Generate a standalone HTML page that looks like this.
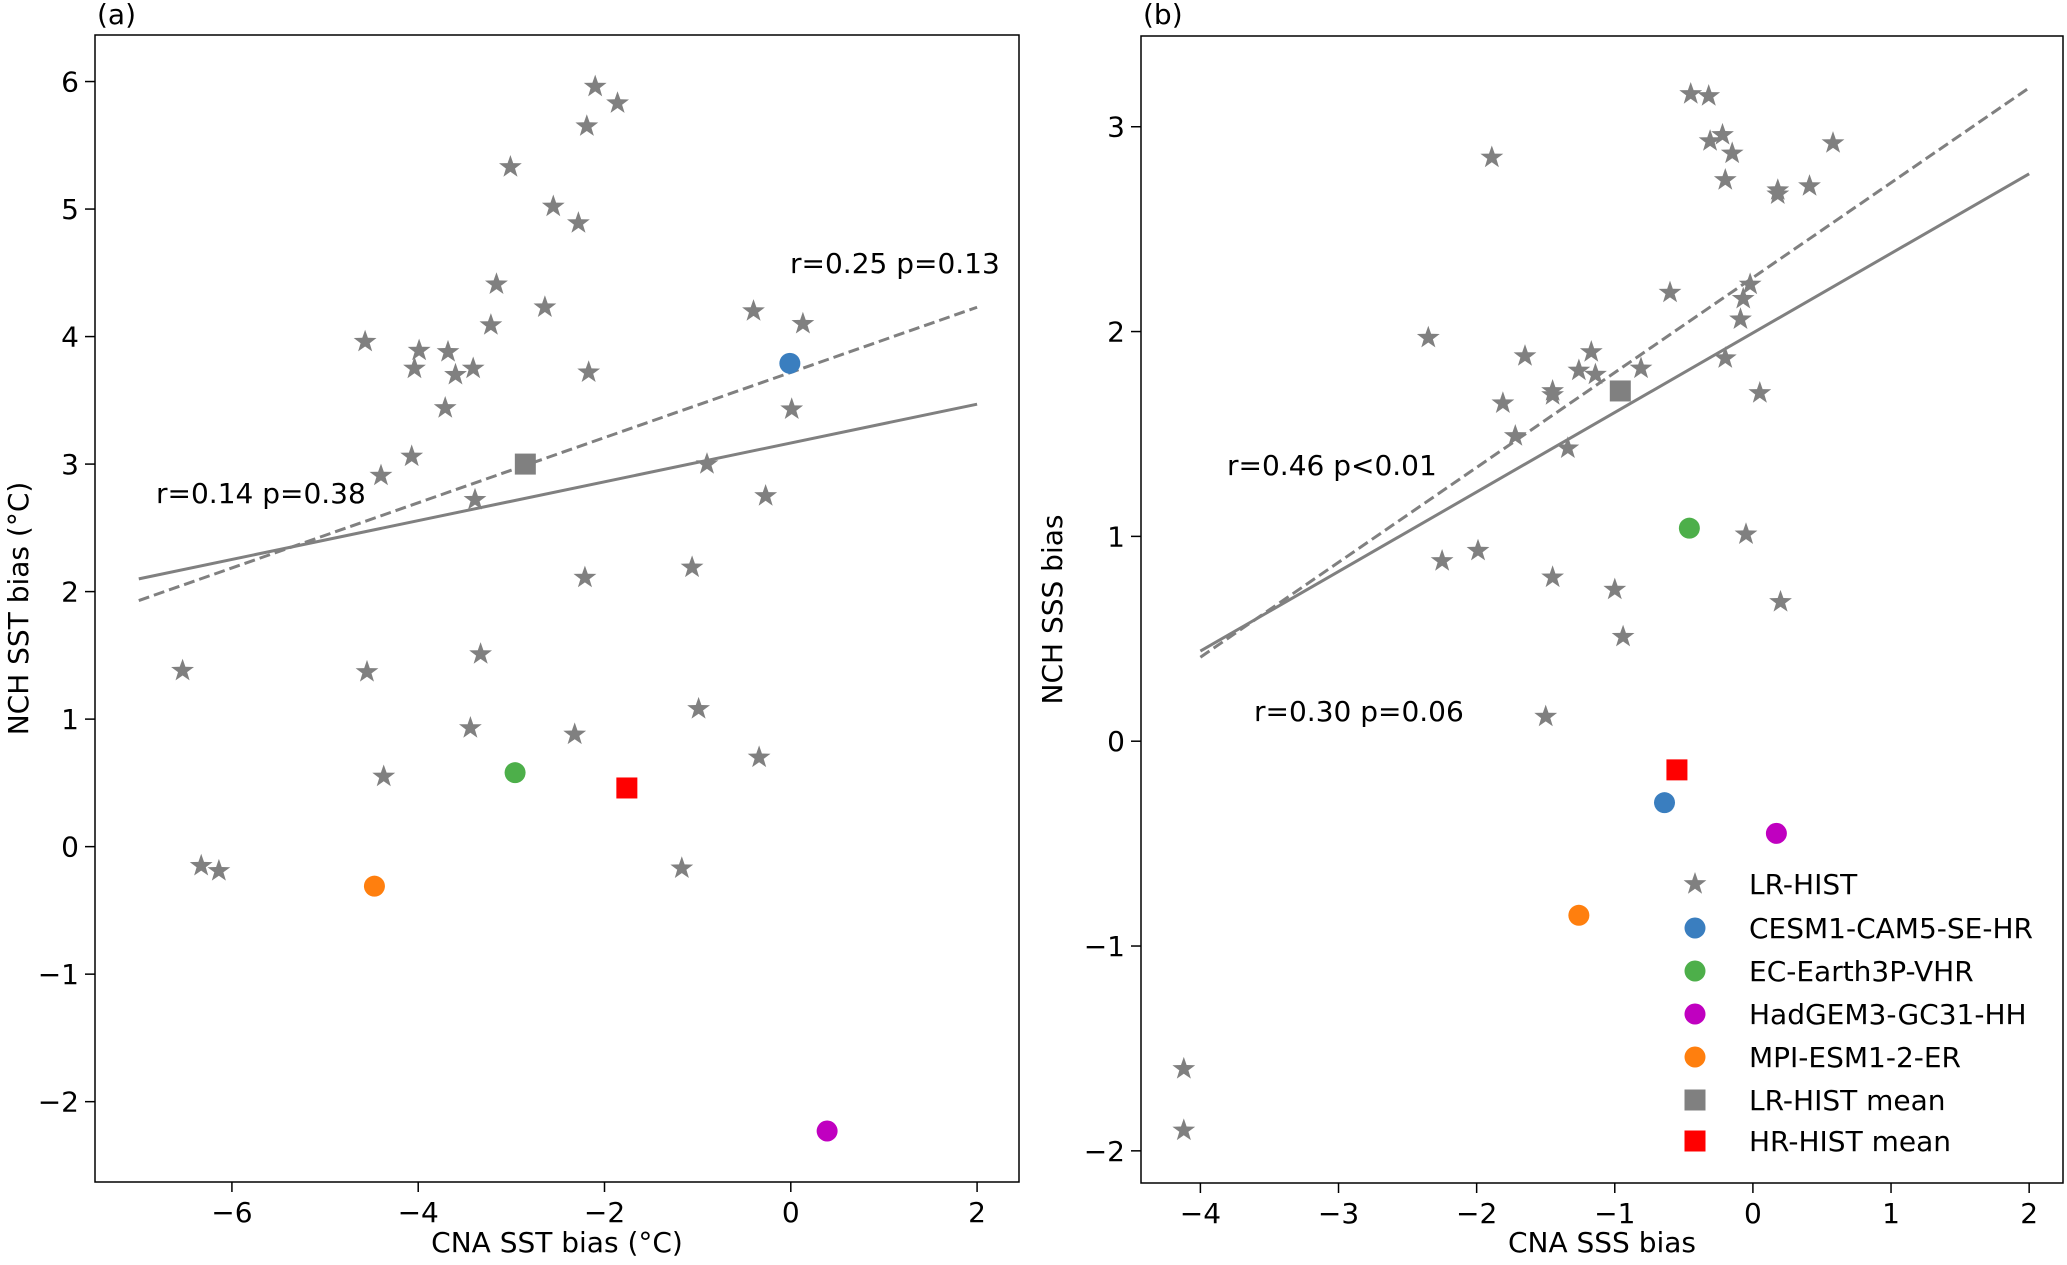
<!DOCTYPE html>
<html><head><meta charset="utf-8"><style>
html,body{margin:0;padding:0;background:#fff;}
svg text{font-family:"DejaVu Sans","Liberation Sans",sans-serif;font-size:28px;fill:#000;}
</style></head><body>
<svg id="chart" width="2067" height="1260" viewBox="0 0 2067 1260" xmlns="http://www.w3.org/2000/svg"></svg>
<script>
// Panel (a) data
const aStarX = [-2.10,-1.86,-2.19,-3.01,-2.55,-2.28,-3.16,-2.64,-3.22,-0.40,0.13,-4.57,-3.99,-3.68,-4.04,-3.60,-3.41,-2.17,-3.71,0.01,-4.07,-4.40,-3.39,-0.90,-0.27,-1.06,-2.21,-6.53,-4.55,-3.33,-3.44,-2.32,-0.99,-0.34,-4.37,-6.33,-6.14,-1.17];
const aStarY = [5.96,5.83,5.65,5.33,5.02,4.89,4.41,4.23,4.09,4.20,4.10,3.96,3.89,3.88,3.75,3.70,3.75,3.72,3.44,3.43,3.06,2.91,2.72,3.00,2.75,2.19,2.11,1.38,1.37,1.51,0.93,0.88,1.08,0.70,0.55,-0.15,-0.19,-0.17];
const aModelX = [-0.01,-2.96,0.39,-4.47];
const aModelY = [3.79,0.58,-2.23,-0.31];
const aMeanX = [-2.85,-1.76];
const aMeanY = [3.00,0.46];
const aSolid = [[-7,2.10],[2,3.47]];
const aDash = [[-7,1.93],[2,4.23]];
const aXTicks = [-6,-4,-2,0,2];
const aYTicks = [-2,-1,0,1,2,3,4,5,6];
// Panel (b) data
const bStarX = [-0.45,-0.32,-0.31,-0.22,-0.15,0.58,-1.89,-0.20,0.18,0.18,0.41,-0.60,-0.02,-0.07,-0.09,-0.20,0.05,-2.35,-1.65,-1.17,-1.26,-1.14,-0.81,-1.45,-1.45,-1.81,-1.72,-1.34,-2.25,-1.99,-1.45,-1.00,-0.94,-0.05,0.20,-1.50,-4.12,-4.12];
const bStarY = [3.16,3.15,2.93,2.96,2.87,2.92,2.85,2.74,2.69,2.67,2.71,2.19,2.23,2.16,2.06,1.87,1.70,1.97,1.88,1.90,1.81,1.79,1.82,1.71,1.69,1.65,1.49,1.43,0.88,0.93,0.80,0.74,0.51,1.01,0.68,0.12,-1.60,-1.90];
const bModelX = [-0.64,-0.46,0.17,-1.26];
const bModelY = [-0.30,1.04,-0.45,-0.85];
const bMeanX = [-0.96,-0.55];
const bMeanY = [1.71,-0.14];
const bSolid = [[-4,0.44],[2,2.77]];
const bDash = [[-4,0.41],[2,3.19]];
const bXTicks = [-4,-3,-2,-1,0,1,2];
const bYTicks = [-2,-1,0,1,2,3];

const modelColors = ['#3a7ebf','#4daf4a','#c000c0','#ff7f0e'];
const modelNames = ['CESM1-CAM5-SE-HR','EC-Earth3P-VHR','HadGEM3-GC31-HH','MPI-ESM1-2-ER'];
const meanColors = ['#808080','#ff0000'];
const NS='http://www.w3.org/2000/svg';
const svg=document.getElementById('chart');
function mk(tag,attrs,parent){const e=document.createElementNS(NS,tag);for(const k in attrs)e.setAttribute(k,attrs[k]);(parent||svg).appendChild(e);return e;}
function starPts(cx,cy,R){let p=[];for(let i=0;i<10;i++){const r=i%2?R*0.4:R;const a=-Math.PI/2+i*Math.PI/5;p.push((cx+r*Math.cos(a)).toFixed(1)+','+(cy+r*Math.sin(a)).toFixed(1));}return p.join(' ');}

function panel(cfg){
  const g=mk('g',{});
  
  
  const sx=v=>cfg.L+(v-cfg.x0)/(cfg.x1-cfg.x0)*(cfg.R-cfg.L);
  const sy=v=>cfg.B-(v-cfg.y0)/(cfg.y1-cfg.y0)*(cfg.B-cfg.T);
  cfg.xt.forEach(t=>{
    const l=mk('line',{x1:sx(t),x2:sx(t),y1:cfg.B,y2:cfg.B+10,stroke:'#000','stroke-width':1.5},g);
    
    
    const tx=mk('text',{x:sx(t),y:cfg.B+40,'text-anchor':'middle'},g);
    tx.textContent=t<0?'\u2212'+Math.abs(t):String(t);
    
    
  });
  cfg.yt.forEach(t=>{
    const l=mk('line',{x1:cfg.L-10,x2:cfg.L,y1:sy(t),y2:sy(t),stroke:'#000','stroke-width':1.5},g);
    
    
    const tx=mk('text',{x:cfg.L-16,y:sy(t)+10,'text-anchor':'end'},g);
    tx.textContent=t<0?'\u2212'+Math.abs(t):String(t);
    
    
  });
  const sl=mk('line',{x1:sx(cfg.solid[0][0]),y1:sy(cfg.solid[0][1]),x2:sx(cfg.solid[1][0]),y2:sy(cfg.solid[1][1]),stroke:'#808080','stroke-width':3},g);
  
  
  const dl=mk('line',{x1:sx(cfg.dash[0][0]),y1:sy(cfg.dash[0][1]),x2:sx(cfg.dash[1][0]),y2:sy(cfg.dash[1][1]),stroke:'#808080','stroke-width':3,'stroke-dasharray':'11,5'},g);
  
  
  cfg.sX.forEach((x,i)=>{
    const s=mk('polygon',{points:starPts(sx(x),sy(cfg.sY[i]),12),fill:'#808080'},g);
    
    
  });
  cfg.mX.forEach((x,i)=>{
    const c=mk('circle',{cx:sx(x),cy:sy(cfg.mY[i]),r:10.5,fill:modelColors[i]},g);
    
    
  });
  cfg.meanX.forEach((x,i)=>{
    const r=mk('rect',{x:sx(x)-10.5,y:sy(cfg.meanY[i])-10.5,width:21,height:21,fill:meanColors[i]},g);
    
    
  });
  const fr=mk('rect',{x:cfg.L,y:cfg.T,width:cfg.R-cfg.L,height:cfg.B-cfg.T,fill:'none',stroke:'#000','stroke-width':1.5},g);
  
  
  const xl=mk('text',{x:(cfg.L+cfg.R)/2,y:1252,'text-anchor':'middle'},g);
  xl.textContent=cfg.xlab;
  
  
  const yl=mk('text',{x:0,y:0,'text-anchor':'middle',transform:'translate('+cfg.ylx+','+((cfg.T+cfg.B)/2)+') rotate(-90)'},g);
  yl.textContent=cfg.ylab;
  
  
  const pl=mk('text',{x:cfg.L+2,y:24},g);
  pl.textContent=cfg.tag;
  
  
  cfg.notes.forEach(n=>{
    const t=mk('text',{x:n[0],y:n[1]},g);
    t.textContent=n[2];
    
    
  });
}
panel({name:'panel-a',L:95,R:1019,T:35,B:1182,x0:-7.47,x1:2.45,y0:-2.63,y1:6.365,
  xt:aXTicks,yt:aYTicks,sX:aStarX,sY:aStarY,mX:aModelX,mY:aModelY,meanX:aMeanX,meanY:aMeanY,
  solid:aSolid,dash:aDash,xlab:'CNA SST bias (\u00B0C)',ylab:'NCH SST bias (\u00B0C)',ylx:28,tag:'(a)',
  notes:[[790,273,'r=0.25 p=0.13'],[156,503,'r=0.14 p=0.38']]});
panel({name:'panel-b',L:1141,R:2063,T:36,B:1183,x0:-4.43,x1:2.245,y0:-2.157,y1:3.443,
  xt:bXTicks,yt:bYTicks,sX:bStarX,sY:bStarY,mX:bModelX,mY:bModelY,meanX:bMeanX,meanY:bMeanY,
  solid:bSolid,dash:bDash,xlab:'CNA SSS bias',ylab:'NCH SSS bias',ylx:1062,tag:'(b)',
  notes:[[1227,475,'r=0.46 p<0.01'],[1254,721,'r=0.30 p=0.06']]});

// legend
const lg=mk('g',{});


const legY=[884,928,971,1014,1057,1100,1141];
const legLabels=['LR-HIST'].concat(modelNames,['LR-HIST mean','HR-HIST mean']);
legLabels.forEach((lab,i)=>{
  const y=legY[i], x=1695;
  let m;
  if(i===0) m=mk('polygon',{points:starPts(x,y,12),fill:'#808080'},lg);
  else if(i<=4) m=mk('circle',{cx:x,cy:y,r:10.5,fill:modelColors[i-1]},lg);
  else m=mk('rect',{x:x-10.5,y:y-10.5,width:21,height:21,fill:meanColors[i-5]},lg);
  
  
  const t=mk('text',{x:1749,y:y+10},lg);
  t.textContent=lab;
  
  
});
</script>
</body></html>
